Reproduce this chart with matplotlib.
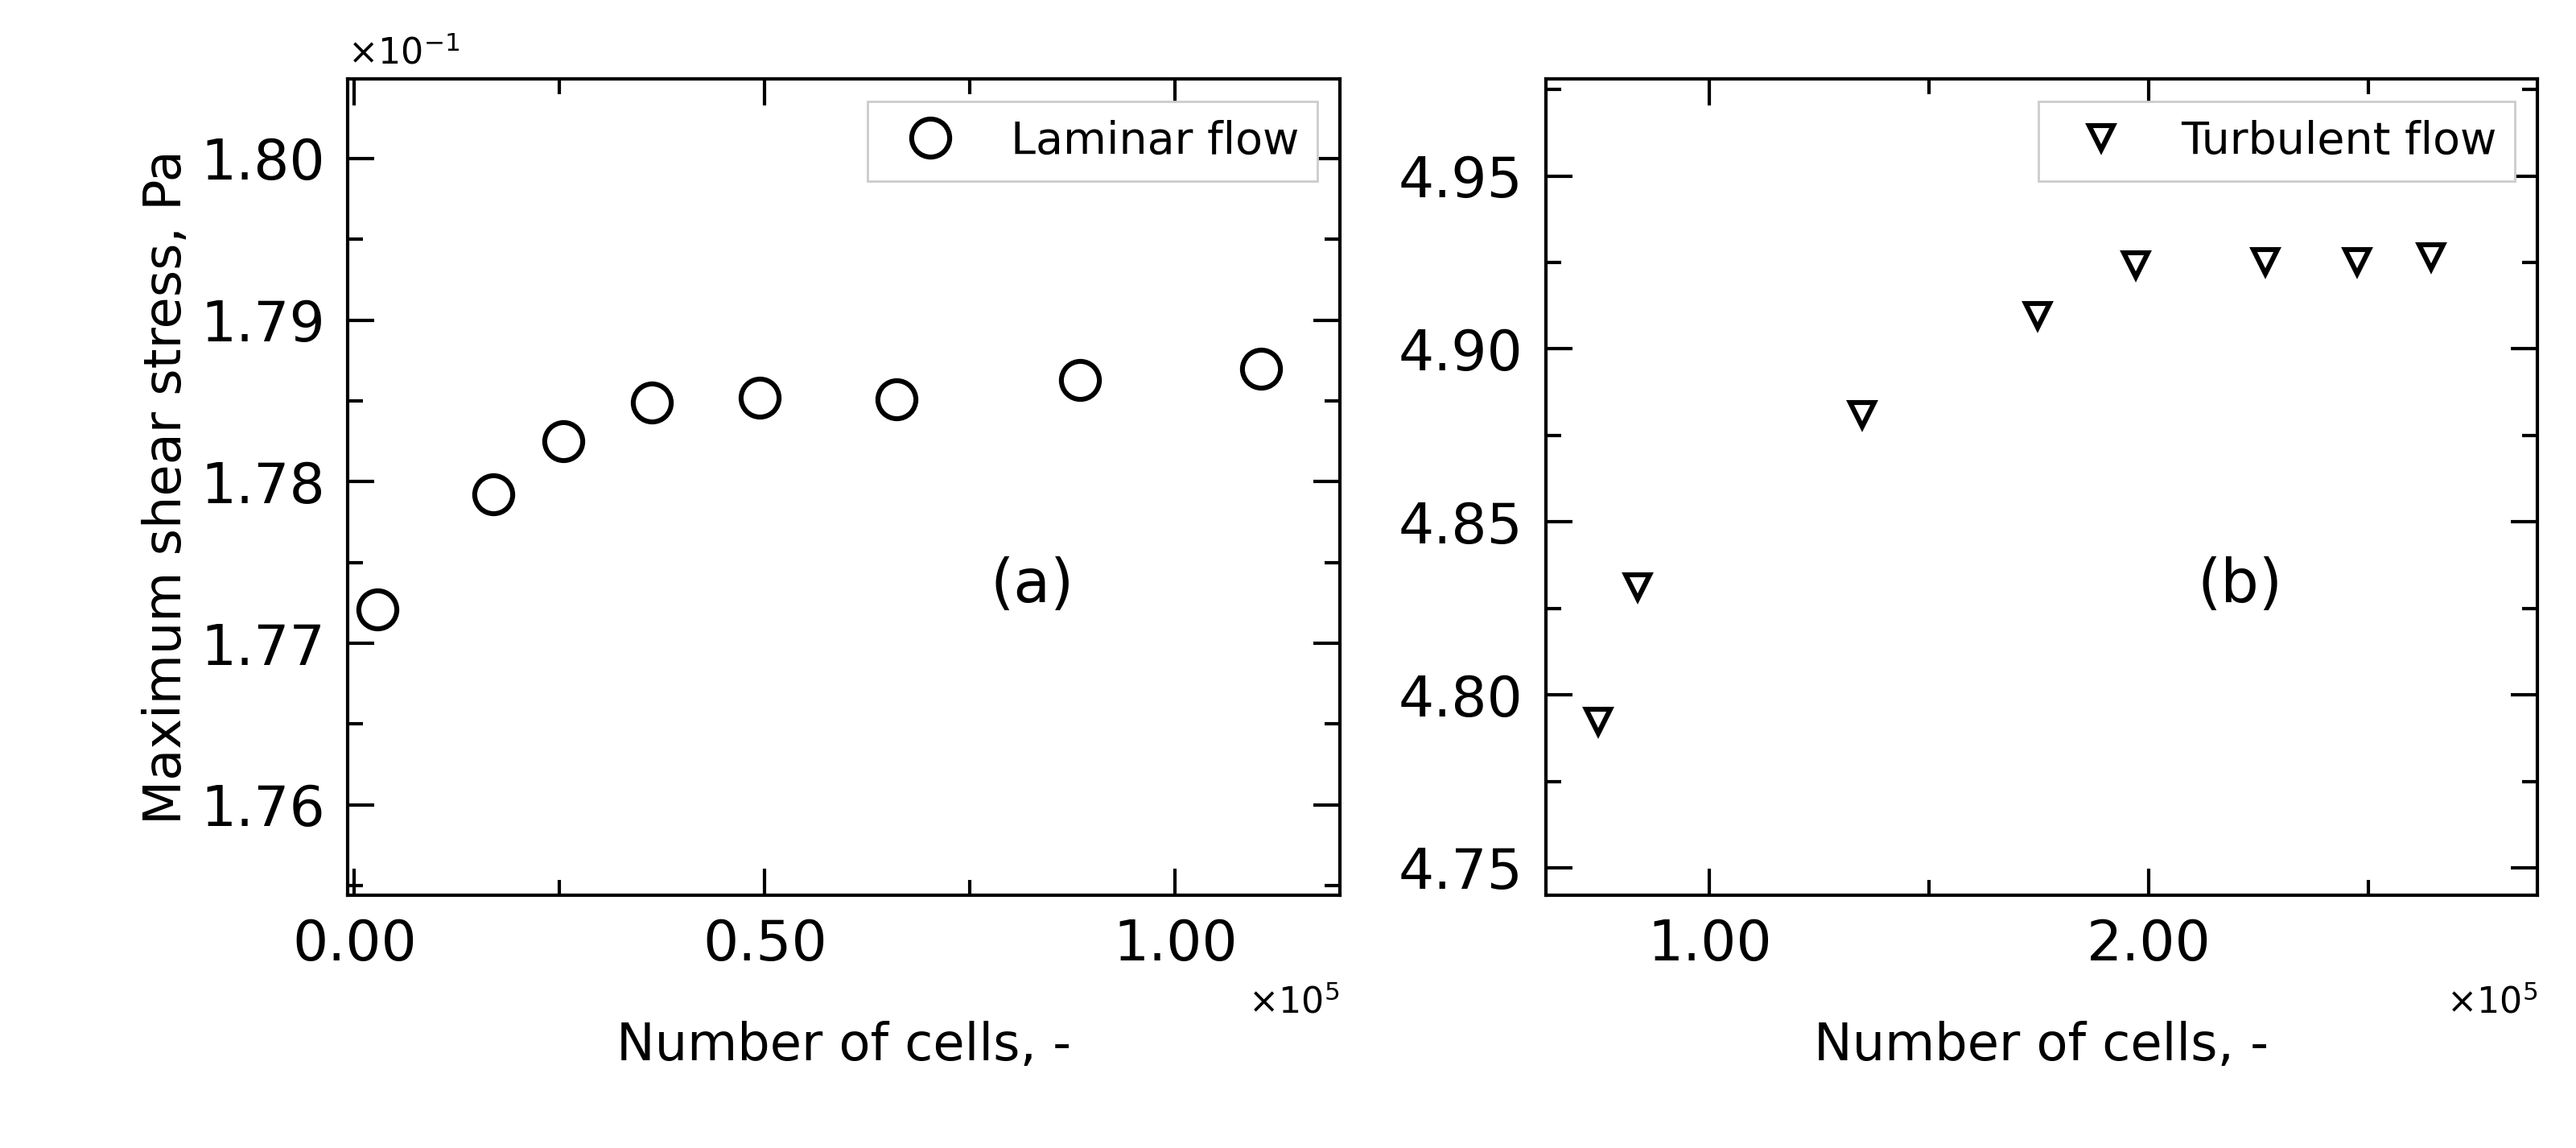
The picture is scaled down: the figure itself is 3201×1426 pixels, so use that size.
import matplotlib.pyplot as plt
from matplotlib.ticker import MultipleLocator, FormatStrFormatter

# laminar: cells (x1e5), stress (x1e-1 Pa)
lam_cells = [0.028, 0.169, 0.255, 0.362, 0.494, 0.660, 0.884, 1.104]
lam_stress = [1.7721, 1.7792, 1.7825, 1.7849, 1.7852, 1.7851, 1.7863, 1.7870]
# turbulent: cells (x1e5), stress (Pa)
turb_cells = [0.746, 0.836, 1.347, 1.746, 1.970, 2.265, 2.474, 2.642]
turb_stress = [4.7923, 4.8313, 4.8811, 4.9096, 4.9243, 4.9253, 4.9253, 4.9267]

plt.rcParams['font.family'] = 'DejaVu Sans'
fig = plt.figure(figsize=(16.005, 7.13), dpi=200)
ax1 = fig.add_axes([0.135, 0.22, 0.385, 0.711])
ax2 = fig.add_axes([0.600, 0.22, 0.385, 0.711])

ax1.plot(lam_cells, lam_stress, 'o', mfc='none', mec='black', ms=17, mew=2.2, ls='none', label='Laminar flow')
ax2.plot(turb_cells, turb_stress, 'v', mfc='none', mec='black', ms=11, mew=2.2, ls='none', label='Turbulent flow')

ax1.set_xlim(-0.008, 1.2)
ax1.set_ylim(1.7544, 1.8049)
ax1.xaxis.set_major_locator(MultipleLocator(0.5))
ax1.xaxis.set_minor_locator(MultipleLocator(0.25))
ax1.yaxis.set_major_locator(MultipleLocator(0.01))
ax1.yaxis.set_minor_locator(MultipleLocator(0.005))
ax1.xaxis.set_major_formatter(FormatStrFormatter('%.2f'))
ax1.yaxis.set_major_formatter(FormatStrFormatter('%.2f'))

ax2.set_xlim(0.627, 2.884)
ax2.set_ylim(4.742, 4.978)
ax2.xaxis.set_major_locator(MultipleLocator(1.0))
ax2.xaxis.set_minor_locator(MultipleLocator(0.5))
ax2.yaxis.set_major_locator(MultipleLocator(0.05))
ax2.yaxis.set_minor_locator(MultipleLocator(0.025))
ax2.xaxis.set_major_formatter(FormatStrFormatter('%.2f'))
ax2.yaxis.set_major_formatter(FormatStrFormatter('%.2f'))

for ax in (ax1, ax2):
    ax.tick_params(which='both', direction='in', top=True, right=True, width=1.5, labelsize=25, pad=10)
    ax.tick_params(which='major', length=12)
    ax.tick_params(which='minor', length=7)
    for s in ax.spines.values():
        s.set_linewidth(1.5)
    ax.set_xlabel('Number of cells, -', fontsize=23, labelpad=22)
    ax.text(1.0, -0.11, r'$\times10^{5}$', transform=ax.transAxes, ha='right', va='top', fontsize=16)
    ax.legend(loc='upper right', fontsize=20, handletextpad=0.8, borderpad=0.4,
              fancybox=False, edgecolor='#cccccc', framealpha=1)

ax1.set_ylabel('Maximum shear stress, Pa', fontsize=23)
ax1.text(0.0, 1.01, r'$\times10^{-1}$', transform=ax1.transAxes, ha='left', va='bottom', fontsize=16)
ax1.text(0.69, 0.38, '(a)', transform=ax1.transAxes, fontsize=27, ha='center', va='center')
ax2.text(0.70, 0.38, '(b)', transform=ax2.transAxes, fontsize=27, ha='center', va='center')

fig.savefig('out.png', dpi=200)
